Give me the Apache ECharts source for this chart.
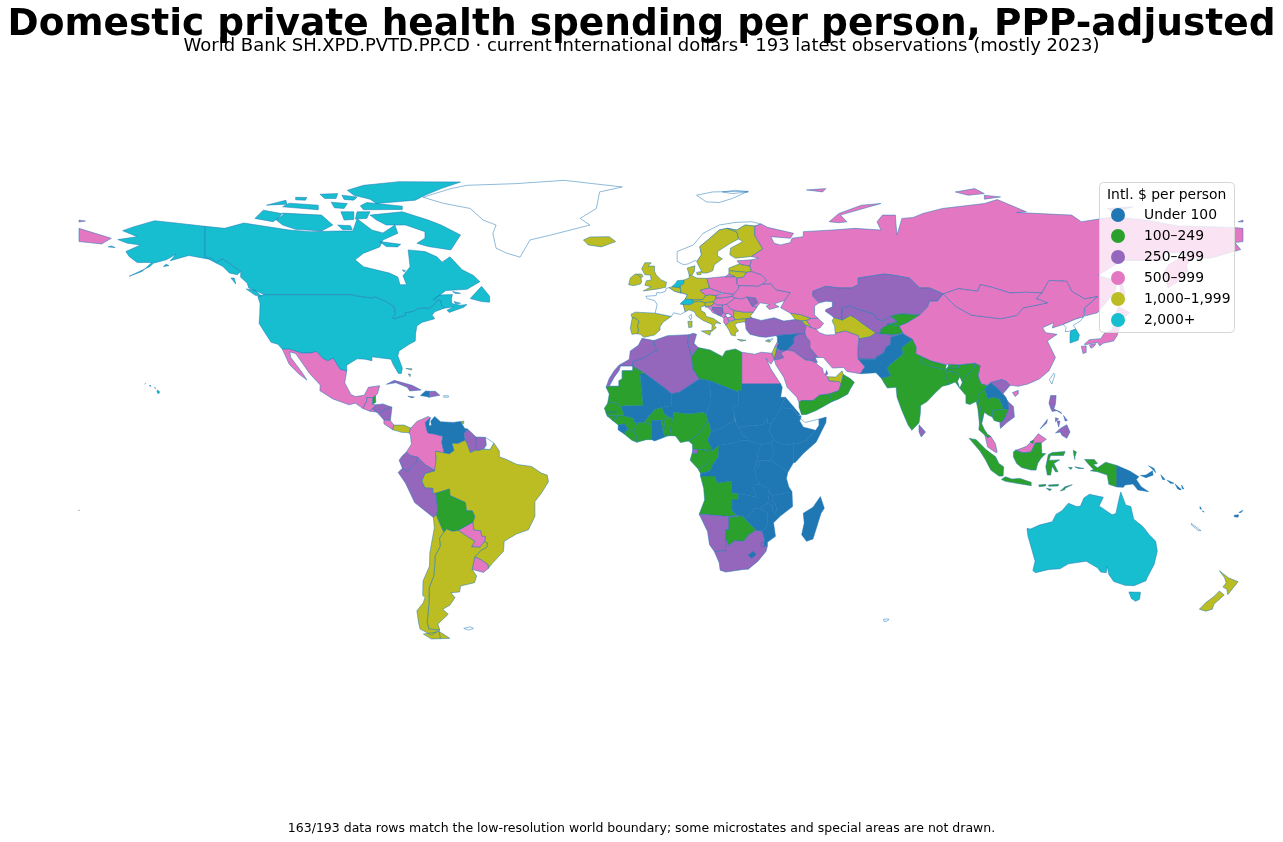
<!DOCTYPE html>
<html><head><meta charset="utf-8"><style>html,body{margin:0;padding:0;background:#fff}#c{width:1283px;height:842px}</style>
<script src="https://cdn.jsdelivr.net/npm/echarts@6/dist/echarts.min.js"></script></head><body><div id="c"></div>
<script>
const titleText='Domestic private health spending per person, PPP-adjusted';
const subtitleText='World Bank SH.XPD.PVTD.PP.CD · current international dollars · 193 latest observations (mostly 2023)';
const footnoteText='163/193 data rows match the low-resolution world boundary; some microstates and special areas are not drawn.';
const legendTitle='Intl. $ per person';
const binLabels=['Under 100','100–249','250–499','500–999','1,000–1,999','2,000+'];
const binColors=['#1f77b4','#2ca02c','#9467bd','#e377c2','#bcbd22','#17becf'];
const binLower=[0,100,250,500,1000,2000];
const binUpper=[100,250,500,1000,2000,1e9];
const binTypical=[60,170,370,720,1400,3200];
const under100=['Mali','Niger','Chad','Sudan','South Sudan','Ethiopia','Eritrea','Djibouti','Somalia','Kenya','Uganda','Tanzania','Rwanda','Burundi','DR Congo','Central African Rep.','Zambia','Zimbabwe','Malawi','Mozambique','Madagascar','Lesotho','Sierra Leone','Ghana','Venezuela','Haiti','Syria','Pakistan','Laos','Papua New Guinea','Solomon Is.','Vanuatu','Fiji'];
const from100to249=['Libya','Mauritania','Senegal','Gambia','Guinea-Bissau','Guinea','Liberia',"Cote d'Ivoire",'Burkina Faso','Togo','Benin','Nigeria','Cameroon','Gabon','Congo','Angola','Botswana','Yemen','Oman','India','Nepal','Bhutan','Bangladesh','Myanmar','Thailand','Cambodia','Indonesia','Timor-Leste','Brunei','Kyrgyzstan','Tajikistan','Belize','Bolivia'];
const from250to499=['Morocco','Algeria','Tunisia','Eq. Guinea','Namibia','South Africa','Eswatini','Turkey','Iraq','Jordan','Qatar','Kuwait','Afghanistan','Uzbekistan','Kazakhstan','Vietnam','Philippines','Sri Lanka','Moldova','Bosnia and Herz.','Honduras','Nicaragua','Cuba','Dominican Rep.','Jamaica','Guyana','Suriname','Ecuador','Peru'];
const from500to999=['Russia','China','Mongolia','Japan','Malaysia','Iran','Saudi Arabia','Egypt','Azerbaijan','Lebanon','Mexico','Guatemala','El Salvador','Costa Rica','Colombia','Paraguay','Uruguay','Ukraine','Belarus','Poland','Czechia','Slovakia','Hungary','Romania','Serbia','Croatia','Estonia','Montenegro','Albania','North Macedonia'];
const from1000to1999=['Iceland','United Kingdom','Ireland','Spain','Portugal','Belgium','Luxembourg','Germany','Denmark','Austria','Italy','Sweden','Finland','Latvia','Lithuania','Slovenia','Bulgaria','Greece','Cyprus','Georgia','Armenia','Turkmenistan','United Arab Emirates','Israel','Brazil','Argentina','Chile','Panama','Bahamas','Trinidad and Tobago','New Zealand'];
const over2000=['United States','Canada','Australia','Netherlands','Switzerland','South Korea'];
const binMembers=[under100,from100to249,from250to499,from500to999,from1000to1999,over2000];

const boundaries={
'United States':['-122.8 49 -95.2 49 -94.6 48.7 -92 48.3 -89.6 48 -88.4 48.3 -84.9 46.9 -82.5 45.3 -82.1 43 -83 42.2 -82.7 41.7 -79 42.8 -79.2 43.5 -76.5 44 -74.9 45 -71.5 45 -70.3 45.9 -69.2 47.4 -68.2 47.3 -67.8 45.7 -67 44.9 -70 43.8 -70.8 42.8 -70 41.7 -74 40.6 -75.5 39.5 -75.9 37.2 -76 35 -78 33.9 -81 32 -81.4 30.5 -80 26.8 -80.3 25.2 -81.2 25.2 -82.8 27.8 -83.5 29.5 -85.3 29.7 -89.4 30.2 -89.4 29 -91.5 29.5 -94 29.6 -97.2 27.7 -97.2 25.9 -99.2 26.4 -101.4 29.8 -103 29 -104.5 29.6 -106.5 31.8 -108.2 31.4 -111 31.3 -114.8 32.5 -117.1 32.5 -118.5 34 -120.6 34.6 -122.5 37.5 -124.3 40.3 -124.1 43 -124 46.3 -124.7 48.4',
 '-141 69.6 -141 60.3 -139 60 -137.5 58.9 -135.5 59.8 -133.5 58.4 -130 56 -131 55 -133.5 55.5 -135.5 57.5 -139.9 59.7 -146 60.8 -149 60 -151.8 59.2 -150 61.2 -153 59.5 -157 58.5 -158 57.5 -164.5 54.5 -160.5 56 -157.5 58.7 -162 58.7 -164.5 60.5 -165.5 62 -161 64 -165 64.5 -168 65.6 -162 66.5 -166.5 68.3 -163 69.5 -156.6 71.3 -148 70.4',
 '-155.5 19 -155 19.6 -155.7 20.2 -155.9 19.7','-156.7 20.9 -156.2 20.7 -156.3 21','-158.2 21.4 -157.7 21.3 -158 21.7','-159.7 22 -159.4 22.2 -159.4 21.9','-153.9 57.5 -152.2 57.7 -153 58.2','-171 63.4 -168.8 63.2 -170 63.7'],
'Canada':['-141 69.6 -135 69 -129 70.6 -121 69.4 -115 68.5 -108.5 68 -100 68.2 -95.3 68.2 -94 71.9 -89.4 68.5 -86 67.6 -82.3 70 -81.4 67.5 -86 65.5 -87 63.4 -92 61.5 -94.6 59.5 -92 57.4 -84 55.5 -81.4 54.3 -80.7 52 -78.7 52 -79.8 54.7 -77.6 57.4 -78.2 62.5 -73 62 -69.3 60.4 -67.7 58.8 -65.3 60.4 -61.5 56.5 -58 54.8 -56 52.9 -60 50.6 -66.5 50.2 -70.5 47.4 -68.5 48.9 -64.5 49 -64.8 47.8 -64.7 46.3 -62 45.8 -60 46 -61 45.2 -65.5 43.6 -66.2 44.3 -64 45.3 -67 44.9 -67.8 45.7 -68.2 47.3 -69.2 47.4 -70.3 45.9 -71.5 45 -74.9 45 -76.5 44 -79.2 43.5 -79 42.8 -82.7 41.7 -83 42.2 -82.1 43 -82.5 45.3 -84.9 46.9 -88.4 48.3 -89.6 48 -92 48.3 -94.6 48.7 -95.2 49 -122.8 49 -125 50 -127.5 51 -128 52.5 -130 54.2 -130 56 -133.5 58.4 -135.5 59.8 -137.5 58.9 -139 60 -141 60.3',
 '-123.5 48.5 -125.5 48.8 -128.3 50.7 -125.5 50.3','-59 47.8 -55.5 51.5 -53 48.5 -53 46.7 -55.5 46.9','-132 54 -133 54 -131.5 52.2',
 '-90 73 -80 74 -72 71.5 -68 70 -62 67 -65 62.5 -72 63.5 -75.5 64.5 -73 66 -73 68 -79 70 -85 70 -88 71.5',
 '-105 73 -117 73.6 -119 71.5 -117 70 -113 68.7 -105 68.2 -101.5 70','-125.6 72 -123 74.5 -116.5 73.3 -120 71',
 '-87 65 -80.5 64.2 -81.5 63.4 -85 63.5','-93 75.8 -91 76.8 -80 75.7 -80 74.7 -92 74.6',
 '-97 80.5 -92 82 -81 83.1 -62 83 -68 81 -73 79 -76 77.5 -88 76.5 -90 77.8 -95 79',
 '-117 75.5 -106 74.6 -106 76 -115 76.6','-99 74 -98 71.5 -95 71.7 -95 74','-94 74 -90 74 -91 72 -94.5 71.8','-122 76 -116 77.5 -115.7 76.3','-102 76.9 -97 76.5 -98 75 -101 75.2','-105.5 79.3 -100 79.5 -100.5 78 -104 78','-113 78.4 -109.5 78.3 -110 77.5 -113 77.6','-98.7 79 -94 78.5 -95 77.5 -98 77.7','-100 70 -96 69.8 -95.5 68.6 -98.5 68.6','-64 46.9 -62 46.4 -63.5 46.2','-64.5 49.9 -62 49.4 -63.5 49.3','-80 56.5 -79 56.2 -79.5 55.9'],
'Greenland':['-73.6 78.4 -67.5 76.6 -59 75 -55 71.5 -51 70 -52 67.5 -51 63 -47.7 61.5 -43.6 60.3 -40.5 65.5 -34 67 -22 70 -25 72 -20 75 -19 80 -12 81.5 -30 83.5 -45 82.5 -60 82 -65 81'],
'Mexico':['-117.1 32.5 -114.8 32.5 -111 31.3 -108.2 31.4 -106.5 31.8 -104.5 29.6 -103 29 -101.4 29.8 -99.2 26.4 -97.2 25.9 -97.8 22.4 -95.9 18.8 -94.5 18.2 -91.8 18.6 -90.5 21 -87 21.5 -87.7 19 -88.3 18.5 -89.1 17.9 -91 17.9 -91 16.9 -92.2 14.6 -94.5 16.2 -96.5 15.7 -101.5 17.5 -105.5 20 -105.4 21.7 -108.7 25.2 -113 31.2 -114.8 31.7 -114.5 30 -111 25.5 -109.5 23.2 -112 25 -115 28'],
'Guatemala':['-92.2 14.6 -91 16.9 -91 17.9 -89.1 17.9 -89.2 15.9 -88.2 15.7 -89.3 14.4 -90.1 13.8'],
'Belize':['-89.1 17.9 -88.3 18.5 -88.2 16.5 -89.2 15.9'],
'Honduras':['-88.2 15.7 -86 16 -83.2 15 -85 14.5 -87.4 13 -87.8 13.5 -89.3 14.4'],
'El Salvador':['-89.3 14.4 -87.8 13.5 -87.8 13.2 -90.1 13.8'],
'Nicaragua':['-83.2 15 -83.7 11 -85.7 11.1 -87.4 13 -85 14.5'],
'Costa Rica':['-83.7 11 -82.6 9.6 -83 8.2 -85.7 10 -85.7 11.1'],
'Panama':['-82.6 9.6 -79.5 9.6 -77.4 8.7 -77.9 7.3 -80.3 7.4 -81.5 7.8 -83 8.2'],
'Cuba':['-84.9 21.9 -82.5 23.1 -77 21.6 -74.2 20.2 -77.7 19.9 -78.5 21 -82 22.4'],
'Jamaica':['-78.3 18.3 -76.3 18.1 -77 17.8'],
'Haiti':['-74.4 18.5 -72.8 19.9 -71.7 19.8 -71.7 18 -72.5 18.2'],
'Dominican Rep.':['-71.7 19.8 -69.8 19.8 -68.4 18.6 -70.5 18.2 -71.7 18'],
'Puerto Rico':['-67.2 18.5 -65.7 18.4 -65.8 18 -67.2 18'],
'Bahamas':['-78.9 26.7 -77 26.6 -77.2 26.2','-78.2 25 -77.6 24.2 -77.5 25'],
'Trinidad and Tobago':['-61.8 10.7 -61 10.8 -61 10.1 -61.8 10.1'],
'Colombia':['-75.3 -0.1 -77.5 0.4 -78.8 1.4 -77.2 3.8 -77.5 6.5 -77.9 7.3 -77.4 8.7 -75.5 10.7 -72 12.2 -71.3 11.8 -72.9 10.4 -72.4 8 -72 7.2 -70 6.9 -67.4 6.2 -67.8 4.5 -67.3 2.2 -67 1.2 -69.8 1.7 -69.5 -0.5 -70 -4.2 -70.7 -3.7 -72.9 -2.4'],
'Venezuela':['-71.3 11.8 -71.6 10.8 -71.8 9.5 -71 9.5 -71.2 10.8 -70 12.2 -68.2 10.6 -64.3 10.4 -62 10.7 -60.7 8.6 -59.8 8.4 -61 7 -60.6 5 -62.8 4 -64.6 4.1 -64 1.9 -65.5 0.9 -67 1.2 -67.3 2.2 -67.8 4.5 -67.4 6.2 -70 6.9 -72 7.2 -72.4 8 -72.9 10.4'],
'Guyana':['-59.8 8.4 -57.2 6 -57.3 2 -59 1.3 -60 4 -60.6 5 -61 7'],
'Suriname':['-57.2 6 -54.3 5.9 -54 3.6 -54.8 2.4 -56.5 1.9 -57.3 2'],
'Brazil':['-51.7 4.2 -50 1.8 -50 0 -48 -0.7 -44.5 -2.3 -40 -2.9 -37 -4.9 -35.2 -5.5 -34.8 -7.5 -37 -11 -39 -13.5 -39 -18 -41 -22 -44.7 -23.3 -48.5 -25.5 -48.7 -28.5 -52.3 -32.3 -53.4 -33.7 -53.5 -32.5 -55.8 -31 -57.6 -30.2 -55.8 -28.3 -53.8 -27.2 -53.7 -26 -54.6 -25.6 -54.3 -24 -55.4 -24 -55.8 -22.3 -57.9 -22.1 -58.2 -19.8 -57.6 -18 -58.4 -16.3 -60.2 -16.3 -60.5 -13.8 -65.3 -11.7 -65.4 -9.7 -69.6 -11 -70.6 -11 -70.6 -9.5 -73 -9.4 -74 -7.3 -73 -5 -70 -4.2 -69.5 -0.5 -69.8 1.7 -67 1.2 -65.5 0.9 -64 1.9 -64.6 4.1 -62.8 4 -60.6 5 -60 4 -59 1.3 -57.3 2 -56.5 1.9 -54.8 2.4 -52.9 2.2'],
'Ecuador':['-75.3 -0.1 -77.5 0.4 -78.8 1.4 -80 0.3 -81 -1 -80 -3.4 -78.5 -4.5 -75.5 -1.5'],
'Peru':['-75.3 -0.1 -75.5 -1.5 -78.5 -4.5 -80 -3.4 -81.3 -4.7 -79 -8 -76.2 -13.8 -70.4 -18.3 -69.5 -17.5 -69 -16.2 -69.6 -11 -70.6 -11 -70.6 -9.5 -73 -9.4 -74 -7.3 -73 -5 -70 -4.2 -70.7 -3.7 -72.9 -2.4'],
'Bolivia':['-69.6 -11 -65.4 -9.7 -65.3 -11.7 -60.5 -13.8 -60.2 -16.3 -58.4 -16.3 -57.6 -18 -58.2 -19.8 -62.7 -22.2 -64.5 -22.5 -66.3 -21.8 -67.2 -22.8 -68.5 -20 -69.5 -17.5 -69 -16.2'],
'Paraguay':['-58.2 -19.8 -57.9 -22.1 -55.8 -22.3 -55.4 -24 -54.3 -24 -54.6 -25.6 -56 -27.3 -58.6 -27.2 -57.6 -25.5 -60 -24 -62.7 -22.2'],
'Uruguay':['-57.6 -30.2 -55.8 -31 -53.5 -32.5 -53.4 -33.7 -54.9 -34.9 -58.4 -34 -58 -32'],
'Argentina':['-66.3 -21.8 -64.5 -22.5 -62.7 -22.2 -60 -24 -57.6 -25.5 -58.6 -27.2 -56 -27.3 -54.6 -25.6 -53.7 -26 -53.8 -27.2 -55.8 -28.3 -57.6 -30.2 -58 -32 -58.4 -34 -57 -36 -57.7 -38 -62 -39 -62.3 -40.8 -65 -41 -63.7 -42.5 -65.3 -44.8 -67.5 -46 -65.8 -47.5 -69 -50.5 -68.4 -52.3 -71.8 -52 -72.3 -50 -71.8 -44.5 -71.7 -39.5 -70.3 -36 -70 -33 -69.9 -30 -68.3 -27 -68.5 -24.5 -67.2 -22.8','-68.6 -52.7 -68.3 -54.9 -65.3 -54.8'],
'Chile':['-69.5 -17.5 -70.4 -18.3 -70.1 -21.5 -71.5 -29 -71.6 -33 -73.6 -37.5 -73.7 -41.8 -73 -42.5 -73.5 -44 -75.5 -46.5 -75 -50 -74.5 -52 -71 -53.8 -68.4 -52.3 -71.8 -52 -72.3 -50 -71.8 -44.5 -71.7 -39.5 -70.3 -36 -70 -33 -69.9 -30 -68.3 -27 -68.5 -24.5 -67.2 -22.8 -68.5 -20','-68.6 -52.7 -70 -53 -73.5 -53.5 -71 -55 -68.3 -54.9'],
'Falkland Is.':['-61 -51.8 -59 -51.3 -58 -51.8 -59.5 -52.3'],
'Iceland':['-24 65.5 -22 66.4 -16 66.5 -14 65 -18.5 63.4 -22.5 64'],
'Ireland':['-10 52 -9.5 54 -8 55.2 -7.3 55.2 -6.2 54.1 -6 52.8 -6.4 52.2 -8.5 51.7'],
'United Kingdom':['-5.5 50.1 -1 50.7 1.4 51.2 1.7 52.7 0 53.5 -1.5 55 -2 56 -2 57.6 -4 57.6 -3 58.6 -5 58.6 -6 56.8 -5 55 -3.3 54.9 -3 53.4 -4.5 53.2 -5 51.8 -3 51.4','-7.3 55.2 -6 55.2 -5.5 54.5 -6.2 54.1'],
'Spain':['-9.3 43 -8 43.7 -1.8 43.4 3.2 42.4 0.7 40.7 -0.3 39.3 -0.3 38.3 -2 36.8 -5.3 36.1 -6.4 37 -7.4 37.2 -7 38.2 -7.3 39.5 -6.8 41 -8.2 42 -8.9 41.9'],
'Portugal':['-8.9 41.9 -8.2 42 -6.8 41 -7.3 39.5 -7 38.2 -7.4 37.2 -9 37 -9.5 38.8'],
'France':['-1.8 43.4 3.2 42.4 3.9 43.5 6 43 7.5 43.8 6.9 46 6 46.2 7.5 47.6 8.2 49 6.4 49.5 6 49.5 4.2 50 2.5 51.1 1.6 50.9 1.4 50 0 49.5 -1.3 49.6 -1.5 48.7 -4.7 48.5 -4.3 47.8 -2 47.2 -1.2 46','8.6 42.4 9.4 43 9.5 42 9.2 41.4','-54.3 5.9 -51.7 4.2 -52.9 2.2 -54.8 2.4 -54 3.6'],
'Belgium':['2.5 51.1 3.4 51.4 5.7 51.2 6 50.8 6.1 50.1 6 49.5 4.2 50'],
'Netherlands':['3.4 51.4 4.6 52.5 5 53.2 7.1 53.4 7 52.2 6 51.8 6 50.8 5.7 51.2'],
'Luxembourg':['6.1 50.1 6.4 49.5 6 49.5'],
'Germany':['7.1 53.4 8.7 54 8.7 55 9.5 54.8 11 54 14.2 53.9 14.6 52.5 15 51 12.1 50.3 13.8 48.7 13 47.5 10.5 47.4 9.5 47.5 7.5 47.6 8.2 49 6.4 49.5 6.1 50.1 6 50.8 6 51.8 7 52.2'],
'Denmark':['8.7 55 8.1 57 10.5 57.7 10.3 56 9.5 54.8','11 55.7 12.6 56 12.3 55 11.2 55'],
'Switzerland':['6 46.2 7.5 47.6 9.5 47.5 10.4 46.8 9 45.9 6.9 46'],
'Austria':['9.5 47.5 10.5 47.4 13 47.5 13.8 48.7 15 49 17 48.7 17 48 16.5 47 16 46.8 13.7 46.5 12 47 10.4 46.8'],
'Italy':['6.9 46 9 45.9 10.4 46.8 12 47 13.7 46.5 13.7 45.6 12.3 45.3 12.4 44.2 13.6 43.5 14 42.4 16.2 41.8 18.5 40.2 17 40.5 16.5 39.7 17.1 39 15.7 37.9 15.8 40 13 41.2 11 42.5 10.3 43.8 8.7 44.4 7.5 43.8','12.5 38 15.6 38.2 15.1 36.7','8.3 40.9 9.6 41 9.6 39.2 8.6 39'],
'Slovenia':['13.7 45.5 13.7 46.5 16 46.8 16.5 46.4 15.4 45.5'],
'Croatia':['13.6 45.3 15.4 45.5 16.5 46.4 17.5 45.9 19 45.9 19 45 16 45.2 15.8 44.5 17.5 43 18.5 42.5 16 43.5 15 44.7 14.3 45.2'],
'Bosnia and Herz.':['16 45.2 19 45 19.3 43.6 18.5 42.5 17.5 43 15.8 44.5'],
'Serbia':['19 45.9 20.3 46.1 21.4 44.8 22.6 44.2 22.5 43.2 22.4 42.3 21.7 42.3 21.7 42.7 20.8 43.2 20 43.1 19.3 43.6 19 45'],
'Kosovo':['20 42.6 20 43.1 20.8 43.2 21.7 42.7 21.7 42.3 20.6 42'],
'Montenegro':['18.5 42.5 19.3 43.6 20 43.1 20 42.6 19.4 41.9'],
'Albania':['19.4 41.9 20 42.6 20.6 42 21 40.6 20.1 39.7 19.4 40.6'],
'North Macedonia':['20.6 42 21.7 42.3 22.4 42.3 23 41.4 21 40.9'],
'Bulgaria':['22.6 44.2 25.5 43.7 28.6 43.7 27.7 42.6 28 42 26.3 41.7 23 41.4 22.4 42.3 22.5 43.2'],
'Romania':['20.3 46.1 22.9 48 24.9 47.7 26.6 48.3 28.2 45.5 29.7 45.2 28.6 43.7 25.5 43.7 22.6 44.2 21.4 44.8'],
'Greece':['20.1 39.7 21 40.6 21 40.9 23 41.4 26.3 41.7 26 40.8 23.8 40.5 22.8 40 23.3 39 24 38 23 37.5 23 36.5 21.7 36.8 21 38.3','23.6 35.5 26.3 35.2 24.8 34.9'],
'Hungary':['16.5 47 17 48 18.8 48 22 48.5 22.9 48 20.3 46.1 19 45.9 17.5 45.9 16.5 46.4 16 46.8'],
'Slovakia':['17 48.7 19.5 49.5 22.5 49.1 22 48.5 18.8 48 17 48'],
'Czechia':['12.1 50.3 15 51 18.8 49.6 17 48.7 15 49 13.8 48.7'],
'Poland':['14.2 53.9 19 54.4 23 54.4 23.5 54 23.5 52.2 24 51.7 24 50.8 22.5 49.1 19.5 49.5 18.8 49.6 15 51 14.6 52.5'],
'Norway':['11.1 59 12.5 61 12 63.5 14.5 65.5 18 68.5 20.5 69 23.5 68.5 26 70 29 69.7 31 70.3 28 71 23 70.8 18 70 13 67.5 10 64 5 62 5 59 7 58 8.5 58.3 10.5 59.3','14 77 11 79 16 80 27 80.2 22 78 18 76.8','19 80 23 80.5 27 80 22 79.5'],
'Sweden':['11.1 59 12.5 61 12 63.5 14.5 65.5 18 68.5 20.5 69 23.5 67.9 24 65.8 21.5 64.5 17.5 62 17.5 60.7 19 59.8 16.5 58 16 56.2 14.3 55.5 12.8 55.5 11.5 58'],
'Finland':['20.5 69 23.5 68.5 26 70 29 69.7 29 66.8 31.5 62.8 28 60.5 23 60 21.3 61 21.5 63 25.3 65 24 65.8 23.5 67.9'],
'Estonia':['23.5 59.2 28 59.5 27.5 57.6 25 58 24.3 58.3'],
'Latvia':['21 57 24.3 58.3 25 58 27.5 57.6 28 56 26.5 55.7 21 56.2'],
'Lithuania':['21 56.2 26.5 55.7 25.5 54.2 23.5 54 23 54.4 22.8 54.4 21 55.2'],
'Belarus':['23.5 54 25.5 54.2 26.5 55.7 28 56 31 55 32.7 53.4 31.5 52.2 30 51.5 24 51.7 23.5 52.2'],
'Moldova':['26.6 48.3 29.2 48 30 46.5 28.2 45.5'],
'Ukraine':['24 51.7 30 51.5 31.5 52.2 34 52.3 35.5 50.5 40 49.6 38.2 47.2 35 46.2 36.5 45.3 33.5 44.5 32.5 45.5 33.7 46 30.7 46.5 29.7 45.3 28.2 45.5 30 46.5 29.2 48 26.6 48.3 24.9 47.7 22.9 48 22 48.5 22.5 49.1 24 50.8'],
'Turkey':['26 40.8 26.3 41.7 28 42 31 41.2 35 42 38 41 41.5 41.5 43.5 41.1 44.8 39.7 44.5 37.2 42.4 37.1 38 36.8 36.2 36.6 36 36.2 35.5 36.6 32.5 36.1 30.5 36.3 27.5 37 26.3 38.5 26.2 39.5'],
'Georgia':['40 43.4 43 43 46.5 41.8 45 41.2 43.5 41.1 41.5 41.5'],
'Armenia':['43.5 41.1 45 41.2 46.5 39 44.8 39.7'],
'Azerbaijan':['46.5 41.8 48.6 41.8 50.3 40.3 49.2 39 48 38.5 46.5 39 45 41.2'],
'Russia':['40 43.4 37 45 38.2 47.2 40 49.6 35.5 50.5 34 52.3 31.5 52.2 32.7 53.4 31 55 28 56 27.5 57.6 28 59.5 30.2 60 28 60.5 31.5 62.8 29 66.8 29 69.7 31 70.3 33 69.3 41 67.5 40 66 34 66.5 35 64.5 37 64 40 64.7 40.5 66 44 66.5 44 68 53 68.5 60 69 68 68.5 66.8 71 68.5 73 72.5 73 72.7 70 73 67 74.5 72 78 72.3 81 73.5 87 75 100 76.5 104 77.7 113 74 110 73.8 127 73 130 71 140 72.5 150 71.5 160 69.7 170 69.5 178 69.2 180 69 180 65 177.5 64.7 179.3 62.6 170 60 164 59.9 162.5 57.8 163 56 160 53 156.8 51 155.7 56 157 58 163 61.5 156 61.7 155 59.3 142.5 59.3 135.2 54.8 141 53 140.5 50 135 43.5 131 42.5 130.7 42.3 131 45 135 48.4 131 47.7 127 50 125.5 53 120 53.3 117.8 49.5 113 49.7 108 49.5 102 51.3 98.7 52 98 50 92 50.8 87.3 49.2 83 51 80 51 76.8 54 71 55 69 55.2 61 54 61 52 59 51 55 51 51 51.5 47 50 47 48.5 49 46.5 47.5 45.6 47.5 42.9 48.6 41.8 46.5 41.8 43 43',
 '-180 69 -175 67.5 -170 66 -173 64.3 -180 65','19.8 54.4 21 55.2 22.8 54.4','142 54 143.5 49.5 142.5 46 142 50','52 71 55 70.7 57.5 71 55.5 73 68 76.5 62 76 55 73.5','45 80.6 51 81 50 80','91 80 97 81 100 79.5 95 79','100 79 105 78.5 100 77.8','138 75 146 75.5 140 73.8','178.5 71 180 71.5 180 70.9','-180 71.5 -178 71.2 -180 70.9'],
'Kazakhstan':['47 50 51 51.5 55 51 59 51 61 52 61 54 69 55.2 71 55 76.8 54 80 51 83 51 87.3 49.2 85.5 47 83 47 82.5 45.3 80 42.8 74 43.2 71 42.5 68.5 41 66.5 41.8 66 43 61 44.5 58.5 45.5 56 45 56 41.3 53.5 42 52.5 42.8 50.8 44 51 44.5 53 45.3 53 46.8 51 47 49 46.5 47 48.5'],
'Turkmenistan':['52.9 41 53.5 42 56 41.3 58.5 42.7 60 42 62 40.5 66.5 37.4 64.5 36.2 61.2 35.6 61 36.6 57 38 53.9 37.3 53.7 39.5'],
'Uzbekistan':['56 45 58.5 45.5 61 44.5 66 43 66.5 41.8 68.5 41 71 42.5 73.2 40.8 70.5 40.2 68 38.5 67.7 37.2 66.5 37.4 62 40.5 60 42 58.5 42.7 56 41.3'],
'Kyrgyzstan':['71 42.5 74 43.2 80 42.8 76 40.4 73.7 39.5 70 40 73.2 40.8'],
'Tajikistan':['70.5 40.2 70 40 73.7 39.5 75 37.3 74.9 37.2 71.5 36.8 67.7 37.2 68 38.5'],
'Afghanistan':['61.2 35.6 64.5 36.2 66.5 37.4 67.7 37.2 71.5 36.8 74.9 37.2 71.2 36.1 71 34 69.5 33 69 31.5 66.5 30 66.3 29.5 61 29.5 60.8 31.5 61 34'],
'Pakistan':['61 29.5 66.3 29.5 66.5 30 69 31.5 69.5 33 71 34 71.2 36.1 74.9 37.2 77.8 35.5 74.5 33 74.8 31 71 28 70 26.8 71 24.4 68.2 23.7 66.5 25.4 61.6 25.1 63 27.2'],
'Iran':['44.8 39.7 46.5 39 48 38.5 49 37.5 51 36.8 54 36.9 53.9 37.3 57 38 61 36.6 61.2 35.6 61 34 60.8 31.5 61 29.5 63 27.2 61.6 25.1 57.5 25.8 56.5 27 53 26.8 50.2 30 48.5 30 47.7 31 46 33 46 35 45 36 44.5 37.2'],
'Iraq':['42.4 37.1 44.5 37.2 45 36 46 35 46 33 47.7 31 48.5 30 47.7 30 46.5 29.1 44.7 29.2 41 31.9 39 32.3 41 34.3 41 36'],
'Syria':['36 36.2 36.2 36.6 38 36.8 42.4 37.1 41 36 41 34.3 39 32.3 36.8 32.3 35.8 32.8 36 34.6'],
'Jordan':['35.8 32.8 36.8 32.3 39 32.3 37 31.4 38 30 36 29.3 35 29.5 35.5 31.5'],
'Israel':['34.3 31.3 35.1 33.1 35.8 32.8 35.5 31.5 35 29.5'],
'Lebanon':['35.1 33.1 35.9 34.6 36.4 34.4 35.8 33.3'],
'Saudi Arabia':['35 29.5 36 29.3 38 30 37 31.4 39 32.3 41 31.9 44.7 29.2 46.5 29.1 47.7 28.5 48.8 27.5 50 26.7 50.2 25.5 51.5 24.2 52 23 55.2 22.7 55.7 22 55 20 52 19 49 18.6 47 17 43.3 17 42.7 16.4 42 18 39 21 38 24 35.5 27.8'],
'United Arab Emirates':['51.5 24.2 54 24.1 56 26 56.4 24.9 55.7 22 55.2 22.7 52 23'],
'Oman':['55.7 22 56.4 24.9 58.6 23.6 59.8 22.5 58.5 20.4 57.8 19 55 17.5 53 16.7 52 19 55 20'],
'Yemen':['43.3 17 47 17 49 18.6 52 19 53 16.7 48 14 45 12.8 43.5 12.7 42.7 15 42.7 16.4'],
'Kuwait':['46.5 29.1 47.7 30 48.4 28.5 47.7 28.5'],
'Qatar':['50.8 24.7 51.2 26.1 51.6 25'],
'India':['68.2 23.7 71 24.4 70 26.8 71 28 74.8 31 74.5 33 77.8 35.5 79 33 78.8 31.2 80.9 30.2 80 28.8 83.5 27.3 88 26.4 88.8 27.2 89 26.8 92 26.9 92 27.8 97 28.3 97 27 94.5 24.5 93.2 22.5 92.4 24.2 92.2 25 89.8 25.8 88.3 26 88.1 24.5 89 21.8 87 21.3 85 19.5 82.3 16.7 80.3 15.5 80.2 13 79.8 10.3 77.6 8 76.5 9.5 74.5 14 73 18 72.7 21 70 20.8 69 22.3'],
'Bangladesh':['88.1 24.5 88.3 26 89.8 25.8 92.2 25 92.4 24.2 91.7 22.8 92.4 20.7 91 22.6 89 21.8'],
'Nepal':['80 28.8 80.9 30.2 83.5 29 88.2 27.8 88 26.4 83.5 27.3'],
'Bhutan':['88.8 27.2 89 28 92 27.8 92 26.9 89 26.8'],
'Sri Lanka':['79.8 9.7 81.8 7.5 80.5 6 79.8 7.5'],
'China':['73.7 39.5 76 40.4 80 42.8 82.5 45.3 83 47 85.5 47 87.3 49.2 91 45.5 96 42.8 105 41.7 110 42.7 112 45 119.5 46.5 116 47.8 117.8 49.5 120 53.3 125.5 53 127 50 131 47.7 135 48.4 131 45 130.7 42.3 128 41.5 124.4 40 121 38.9 121.5 40.5 118 39 119 37.5 122.5 37 119.5 35 121 32 122 30 120 26 117 23.5 113.5 22 110.5 21.3 108 21.6 106.7 22.8 105.3 23.3 102 22.4 101 21.5 99 22 98 24.5 98.7 27.5 97 28.3 92 27.8 89 28 88.2 27.8 83.5 29 80.9 30.2 78.8 31.2 79 33 77.8 35.5 74.9 37.2 75 37.3','108.7 19.4 110.5 20.1 110.5 19 109.5 18.2'],
'Mongolia':['87.3 49.2 92 50.8 98 50 98.7 52 102 51.3 108 49.5 113 49.7 117.8 49.5 116 47.8 119.5 46.5 112 45 110 42.7 105 41.7 96 42.8 91 45.5'],
'North Korea':['124.4 40 128 41.5 130.7 42.3 129.7 41 127.5 39.7 128.3 38.6 126.7 38 125 37.8 125.3 39'],
'South Korea':['126.7 38 128.3 38.6 129.4 36.8 129 35.2 126.5 34.4 126.5 37'],
'Japan':['130.9 34 132.5 35.4 136 35.7 137 37.2 139.5 38.3 140 40.5 141.3 41.3 142 39.5 141 36.5 140 35 136.7 34.3 135.7 33.5 135 34.6 131.5 33.9','130 33.4 131.5 33.5 131.5 31.5 130.5 31.2','132.5 33.8 134.5 34.2 134 33.4 133 32.8','140 41.5 141.5 45.4 145 43.5 143 42 141 42.6'],
'Taiwan':['120.1 23.3 121.5 25.3 121.8 24.8 120.9 22'],
'Myanmar':['92.4 20.7 93.2 22.5 94.5 24.5 97 27 97 28.3 98.7 27.5 98 24.5 99 22 101 21.5 100.1 20.3 97.8 18.5 98.5 16 99.5 11.7 98.5 10 98 14.5 97.5 16.7 95.5 15.8 94.3 16.2 94.3 18.5'],
'Laos':['101 21.5 102 22.4 104 20.8 106.6 18 107.5 15.9 107.5 14.4 106 14.4 105.5 15.5 104.7 17.5 102.5 18 101 17.5 100.5 19.5 100.1 20.3'],
'Thailand':['97.8 18.5 100.1 20.3 100.5 19.5 101 17.5 102.5 18 104.7 17.5 105.5 15.5 106 14.4 102.5 14 102.5 12 101 12.7 100 13.5 99.2 10 100 8.3 101 6.8 102 6.2 101 5.7 100.2 6.5 98.3 8.2 98.5 10 99.5 11.7 98.5 16'],
'Cambodia':['102.5 14 106 14.4 107.5 14.4 106 11 105 10.4 103 11 102.5 12'],
'Vietnam':['102 22.4 105.3 23.3 106.7 22.8 108 21.6 105.7 19 107 17 109 15.2 109.3 12 107 10.4 105 8.6 104.8 10 105 10.4 106 11 107.5 14.4 107.5 15.9 106.6 18 104 20.8'],
'Malaysia':['100.2 6.5 101 5.7 102 6.2 103.4 4 104 1.4 103.4 1.4 101 3','109.6 2 111.3 2.5 113 3.2 115 5 116.7 7 119.2 5.3 117.6 4.2 115.8 4.2 114.5 1.5 112 1.2'],
'Brunei':['114.1 4.6 115.3 5 115 4'],
'Indonesia':['109 1.5 109.6 2 112 1.2 114.5 1.5 115.8 4.2 117.6 4.2 117.8 1 119 1 117.5 -0.5 116.5 -2 116 -4 114.5 -4 111.5 -3.2 110 -2 109 0','95.3 5.6 97.5 5.2 100.5 2.2 103.5 0 104.5 -2 106 -3 105.8 -5.8 104.5 -5.8 102 -4 100.3 -0.8 98.7 1.7','105.3 -6.8 106.5 -6 108.5 -6.7 111 -6.5 114.5 -7.7 114.5 -8.7 110 -8 106.5 -7.4','119.5 -5.5 119 -3 119.8 0.7 121 1.3 125 1.6 124.5 0.4 120.5 0.4 120 -1 121.5 -1 123.3 -0.9 121.5 -2 122.8 -4.5 122 -4.5 121 -2.8 120.5 -5.5','123.5 -10.3 125 -9 124.9 -9.9','116.8 -8.5 119 -8.3 118.9 -8.8 117 -9','119.8 -8.5 123 -8.3 122.8 -8.8 120 -8.9','119.2 -9.5 120.8 -9.8 120.2 -10.2','127.5 2 128.5 1.5 128 0 128 -0.8 127.7 0.5','128 -3 130.8 -3.5 129 -3.5','126 -3.2 127.2 -3.2 126.8 -3.8','141 -2.6 137.5 -1.6 135 -3.3 133.7 -2.3 135 -2 134 -0.8 131 -0.8 132.3 -2.3 133.8 -3.8 132.8 -4.2 135 -4.5 138 -5.5 138.5 -8.3 141 -9.1 141 -6'],
'Timor-Leste':['125 -9 127.2 -8.4 125 -9.5'],
'Papua New Guinea':['141 -2.6 145 -4.3 147.8 -6 147 -6.8 148.5 -9 150.8 -10.5 147.5 -10 146 -8.2 143.5 -8.5 143 -9.2 141 -9.1 141 -6','148.3 -5.6 150 -5.5 152 -4.2 152.2 -5.5 150 -6.3','150.8 -2.7 152.5 -3.5 153 -4.8 152.3 -4','154.6 -5.4 155.9 -6.8 155.2 -6.9'],
'Solomon Is.':['156.5 -7 158.7 -8 157.5 -8','159 -8.2 160.8 -9.8 159.8 -9.7','161 -8.5 161.7 -9.7 161.2 -9.6','160 -9.4 160.9 -9.9 160.2 -9.9'],
'Vanuatu':['166.7 -15 167.2 -15.8 166.7 -15.7','167.5 -16.3 168 -16.6 167.6 -16.6'],
'New Caledonia':['164 -20.1 167 -22.3 166.1 -22.2 164.1 -20.6'],
'Fiji':['177.3 -17.6 178.6 -17.5 178.5 -18.2 177.3 -18.1','178.7 -16.8 180 -16.1 179.4 -16.8','-180 -16.3 -179.8 -16.1 -180 -16'],
'Fr. S. Antarctic Lands':['68.8 -49 70.5 -49 70 -49.6 69 -49.7'],
'Philippines':['120.5 18.5 122.2 18.5 122 16 121.5 14.5 124 13 123.5 13.6 122.5 14 121 13.7 120.5 14.7 120 16.2','122 7.2 123.5 8.6 125.5 9.7 126.5 7.5 125.5 5.6 124 6.5 123.5 7.5','124.5 12.5 125.7 11 125 10.8','122.5 10.8 123.4 10.8 123 9','122 11.8 123 11.5 122 10.6','117.2 8.4 119.5 11.3 119.3 10.2'],
'Cyprus':['32.3 35 33 35.3 34 35 33.5 34.6'],
'N. Cyprus':['33 35.3 34.6 35.7 34 35'],
'Morocco':['-5.9 35.8 -2.2 35.1 -1.7 33 -1.2 32.2 -3.5 31 -5 30 -8.7 28.7 -8.7 27.4 -12.5 27.4 -13 26 -14.5 24 -16 21.3 -17 21 -16 23.7 -14.5 26 -13 27.7 -11.5 28.5 -9.8 29.5 -9.5 32 -7 33.7'],
'W. Sahara':['-8.7 27.4 -12.5 27.4 -13 26 -14.5 24 -16 21.3 -13 21.3 -13 23 -12 23.5 -12 26 -8.7 26'],
'Algeria':['-1.7 33 -2.2 35.1 2 36.6 8.6 36.9 8.3 34.5 9.5 30.2 9.9 26.5 11.9 23.5 5.7 19.5 3.2 19 1.2 20.7 -4.8 25 -8.7 27.4 -8.7 28.7 -5 30 -3.5 31 -1.2 32.2'],
'Tunisia':['8.6 36.9 10 37.3 11 37 10.2 34.3 11.5 33 9.5 30.2 8.3 34.5'],
'Libya':['11.5 33 15.2 32.3 19 30.3 20 32 23 32.6 25 31.6 25 20 24 20 24 19.5 15 23 11.9 23.5 9.9 26.5 9.5 30.2'],
'Egypt':['25 31.6 29 31 31 31.6 34.3 31.3 35 29.5 34 28 33 29 32.5 29.8 34 26.5 37 22 25 22'],
'Sudan':['25 22 37 22 37.5 21 37 18 38.5 18 36.5 14.3 36 12.7 34 10 33 10 33 12 31.5 9.8 29 9.5 27 9.5 24 8.8 23 10.7 22.8 11 22.8 13 22 15 24 15.7 24 19.5 24 20 25 20'],
'South Sudan':['24 8.8 27 9.5 29 9.5 31.5 9.8 33 12 33 10 34 10 33.5 7.7 35 5.4 33.9 4.2 31 3.7 28 4.5 27.4 5 25 7'],
'Chad':['15 23 24 19.5 24 15.7 22 15 22.8 13 22.8 11 18.9 8.9 15.5 7.5 15 10 14.5 11 14 13 15.5 16.9'],
'Niger':['11.9 23.5 15 23 15.5 16.9 14 13 13 13.5 8.5 13 4 13.5 3.6 11.7 2.5 12 1 13 0.3 15 3.2 15.4 3.2 19 5.7 19.5'],
'Mali':['-12.2 14.8 -11.7 15.5 -9.5 15.4 -5.5 15.5 -6.5 25 -4.8 25 1.2 20.7 3.2 19 3.2 15.4 0.3 15 -2 14.2 -5.2 10.5 -7.5 10.2 -8.3 10.5 -8.3 11.5 -11.3 12.4'],
'Mauritania':['-17 21 -16 21.3 -13 21.3 -13 23 -12 23.5 -12 26 -8.7 26 -8.7 27.4 -4.8 25 -6.5 25 -5.5 15.5 -9.5 15.4 -11.7 15.5 -12.2 14.8 -14.3 16.5 -16.5 16.2 -16 19'],
'Senegal':['-16.5 16.2 -14.3 16.5 -12.2 14.8 -11.3 12.4 -16.7 12.4 -17.5 14.7'],
'Gambia':['-16.8 13.6 -13.8 13.6 -13.8 13.3 -16.8 13.2'],
'Guinea-Bissau':['-16.7 12.4 -13.7 12.4 -13.7 11.5 -15 11'],
'Guinea':['-13.7 12.4 -11.3 12.4 -8.3 11.5 -8.3 10.5 -7.5 10.2 -8 8.5 -8.5 7.6 -10.3 8.5 -11.3 9.9 -13.2 9.6 -15 11 -13.7 11.5'],
'Sierra Leone':['-13.2 9.6 -11.3 9.9 -10.3 8.5 -11.4 6.9 -13.3 8.2'],
'Liberia':['-11.4 6.9 -10.3 8.5 -8.5 7.6 -7.5 6 -7.5 4.4 -9 5'],
"Cote d'Ivoire":['-8.5 7.6 -8 8.5 -7.5 10.2 -5.2 10.5 -2.9 9.6 -2.8 5.2 -4.5 5.2 -7.5 4.4 -7.5 6'],
'Burkina Faso':['-5.2 10.5 -2 14.2 0.3 15 1 13 2.5 12 0.9 11 0 11 -2.9 11 -2.9 9.6'],
'Ghana':['-2.9 11 0 11 0.5 8 1.2 6 -2 4.8 -2.8 5.2 -2.9 9.6'],
'Togo':['0 11 0.9 11 1.6 6.2 1.2 6 0.5 8'],
'Benin':['0.9 11 2.5 12 3.6 11.7 2.7 6.4 1.6 6.2'],
'Nigeria':['2.7 6.4 3.6 11.7 4 13.5 8.5 13 13 13.5 14 13 14.5 11 13.2 9 11.5 6.6 8.5 4.8 6 4.3 4.5 6.3'],
'Cameroon':['8.5 4.8 11.5 6.6 13.2 9 14.5 11 15 10 15.5 7.5 14.5 5 16 2 13 2.2 11.3 2.2 9.8 2.3 9.7 3.8'],
'Eq. Guinea':['9.8 2.3 11.3 2.2 11.3 1 9.6 1'],
'Gabon':['9.6 1 11.3 1 11.3 2.2 13 2.2 14.4 1.4 14.5 -2 11.5 -3.7 9 -1'],
'Congo':['11.5 -3.7 14.5 -2 14.4 1.4 13 2.2 16 2 18 3.6 17.8 0 16.2 -2 15.2 -4.3 12.2 -5'],
'Central African Rep.':['14.5 5 15.5 7.5 18.9 8.9 22.8 11 23 10.7 24 8.8 25 7 27.4 5 25 5 22.5 4.2 18.5 3.6 18 3.6 16 2'],
'DR Congo':['12.2 -5.8 12.2 -5 15.2 -4.3 16.2 -2 17.8 0 18 3.6 18.5 3.6 22.5 4.2 25 5 27.4 5 28 4.5 31 3.7 30 1.5 29.6 -1.4 29 -2.8 29 -4.5 29.5 -6.5 30.7 -8.3 28.9 -8.5 28.5 -9.5 29.8 -12.2 28.4 -12 27.2 -11.7 25 -11.3 24 -11 22 -11 21.8 -7.3 17.5 -7.9 16.5 -5.8'],
'Angola':['12.2 -5.8 16.5 -5.8 17.5 -7.9 21.8 -7.3 22 -11 24 -11 24 -13 22 -13 22 -16.2 23.4 -17.6 21 -18 13.9 -17.4 11.8 -17.3 13.5 -13 13.2 -9.5'],
'Namibia':['11.8 -17.3 13.9 -17.4 21 -18 23.4 -17.6 25.2 -17.8 23.3 -18 21 -18.3 21 -22 20 -22 20 -28.4 16.5 -28.6 15 -26.5 14.4 -22.5'],
'Botswana':['21 -18.3 23.3 -18 25.2 -17.8 26 -18.7 29.4 -22.1 27 -23.7 25.6 -25.5 22.8 -25.3 20.9 -26.8 20 -24.8 20 -22 21 -22'],
'South Africa':['16.5 -28.6 20 -28.4 20 -24.8 20.9 -26.8 22.8 -25.3 25.6 -25.5 27 -23.7 29.4 -22.1 31.3 -22.4 32 -24.5 32 -26.8 32.9 -26.9 32.5 -28.5 30 -31.5 27 -33.9 25.5 -34 20 -34.8 18.3 -34.2 18 -32'],
'Lesotho':['27 -29.6 28.5 -28.6 29.4 -29.5 28 -30.6'],
'Eswatini':['31 -25.8 32 -26 32 -27.2 31 -27.2'],
'Zimbabwe':['25.2 -17.8 27 -17.9 29 -15.6 30.4 -15.6 33 -17 32.8 -21 31.3 -22.4 29.4 -22.1 26 -18.7'],
'Zambia':['22 -13 24 -13 24 -11 25 -11.3 27.2 -11.7 28.4 -12 29.8 -12.2 28.5 -9.5 28.9 -8.5 30.7 -8.3 32.9 -9.5 33.5 -11 33 -14 30.4 -15.6 29 -15.6 27 -17.9 25.2 -17.8 23.4 -17.6 22 -16.2'],
'Malawi':['32.9 -9.5 34.5 -11.5 34.5 -13.5 35.3 -14 35.8 -16 35.2 -17 34.5 -16 34.5 -14.5 33 -14 33.5 -11'],
'Mozambique':['34.9 -11.6 40.5 -10.5 40.7 -15 37 -17.8 34.8 -19.9 35.4 -24 32.9 -25.8 32.9 -26.9 32 -26.8 32 -24.5 31.3 -22.4 32.8 -21 33 -17 30.4 -15.6 33 -14 34.5 -14.5 34.5 -16 35.2 -17 35.8 -16 35.3 -14 34.5 -13.5 34.5 -11.5'],
'Tanzania':['30 -1 34 -1 37.7 -3.5 39.2 -4.7 38.8 -6.5 39.5 -9 40.5 -10.5 34.9 -11.6 34.5 -11.5 32.9 -9.5 30.7 -8.3 29.5 -6.5 29 -4.5 30.5 -2.4'],
'Burundi':['29 -2.8 30.5 -2.4 29 -4.5'],
'Rwanda':['29.6 -1.4 30 -1 30.5 -2.4 29 -2.8'],
'Uganda':['30 1.5 31 3.7 33.9 4.2 35 1.8 34 -1 30 -1 29.6 -1.4'],
'Kenya':['33.9 4.2 35 5.4 36 4.4 38 3.6 39.8 3.8 41 4 41 -1.7 39.2 -4.7 37.7 -3.5 34 -1 35 1.8'],
'Ethiopia':['36.5 14.3 37.9 14.9 39 14.5 40.5 14.5 42.3 12.5 42.8 11 42.9 10.9 44 9 47.9 8 44.9 5 41.9 3.9 41 4 39.8 3.8 38 3.6 36 4.4 35 5.4 33.5 7.7 34 10 36 12.7'],
'Eritrea':['38.5 18 43 12.8 42.3 12.5 40.5 14.5 39 14.5 37.9 14.9 36.5 14.3'],
'Djibouti':['42.3 12.5 43.3 12.4 43.2 11.5 42.8 11'],
'Somaliland':['43.2 11.5 44.5 10.4 48.9 11.4 48.9 9.5 47.9 8 44 9 42.9 10.9'],
'Somalia':['48.9 11.4 51.1 12 51 10.4 48 4.5 44 1 41.5 -1.7 41 -1.7 41 4 41.9 3.9 44.9 5 47.9 8 48.9 9.5'],
'Madagascar':['49.3 -12 50.5 -15.5 49.5 -17 47 -24.8 45 -25.5 43.5 -23.5 44.3 -20 44 -17 47 -15.2'],
'New Zealand':['172.7 -40.5 174.2 -41.7 171 -44.5 170.5 -46 168.5 -46.6 166.5 -46 168.5 -44 171.2 -42','172.7 -34.4 175.5 -36.5 178.5 -37.7 177 -39.5 175.3 -41.6 175 -40 173.8 -39.3 174.8 -38 174.3 -36.5'],
'Australia':['113.2 -21.6 114.3 -21.8 117 -20.6 121 -19.6 122.2 -17.3 124 -16.3 126 -14 128.5 -15 129.7 -14.9 130.8 -12.4 132.5 -11.3 136.8 -12.2 135.5 -14.8 139.5 -17.5 140.7 -17.1 141.7 -12.5 142.2 -10.6 143.7 -14.5 145.3 -15 146.2 -18.8 149 -21 151 -23.5 153 -25.5 153.5 -28.5 152.5 -32.5 150.3 -36.6 150 -37.4 146.3 -38.9 143.5 -38.8 140 -37.6 138.5 -35.5 138 -33 137.7 -35 136 -34.8 135 -33.5 131.5 -31.5 126 -32.3 123.4 -33.8 120 -34 115.8 -35 115 -34.3 115.7 -31.5 114.2 -26.3 113.5 -24','144.7 -40.8 148.3 -40.9 148 -43 146.8 -43.6 145.5 -42.8']
};

function parseRing(s){const n=s.split(' ').map(Number);const r=[];for(let i=0;i<n.length;i+=2)r.push([n[i],n[i+1]]);r.push(r[0]);return r;}
const worldGeo={type:'FeatureCollection',features:Object.keys(boundaries).map(name=>({type:'Feature',properties:{name},geometry:{type:'MultiPolygon',coordinates:boundaries[name].map(s=>[parseRing(s)])}}))};
echarts.registerMap('lowres',worldGeo);

const mapData=[];
binMembers.forEach((names,i)=>names.forEach(name=>mapData.push({name,value:binTypical[i]})));
const font='"DejaVu Sans"';
const chart=echarts.init(document.getElementById('c'),null,{renderer:'canvas'});
chart.setOption({
 animation:false,backgroundColor:'#fff',tooltip:{show:false},
 title:[
  {text:titleText,left:'center',top:1,textStyle:{fontFamily:font,fontSize:37.5,fontWeight:'bold',color:'#000'},z:20},
  {text:subtitleText,left:'center',top:32,textStyle:{fontFamily:font,fontSize:18,fontWeight:'normal',color:'#000'},z:20},
  {text:footnoteText,left:'center',top:817,textStyle:{fontFamily:font,fontSize:12.5,fontWeight:'normal',color:'#000'},z:20},
  {text:legendTitle,left:1107,top:188,padding:0,textStyle:{fontFamily:font,fontSize:13.9,fontWeight:'normal',color:'#000'},z:60}
 ],
 geo:{map:'lowres',silent:true,roam:false,aspectScale:0.97,boundingCoords:[[-180,83.6],[180,-55.6]],left:79,top:180,width:1164,height:461,
  itemStyle:{areaColor:'#fff',borderColor:'#1f77b4',borderWidth:0.5},emphasis:{disabled:true},select:{disabled:true},label:{show:false}},
 visualMap:{type:'piecewise',seriesIndex:0,orient:'vertical',inverse:true,left:1111,top:208,itemWidth:14,itemHeight:14,itemGap:7,itemSymbol:'circle',textGap:19,align:'left',selectedMode:false,hoverLink:false,z:60,padding:0,
  textStyle:{fontFamily:font,fontSize:13.9,color:'#000'},
  pieces:binLabels.map((label,i)=>({min:binLower[i],max:binUpper[i],label,color:binColors[i]}))},
 graphic:[{type:'rect',z:50,silent:true,shape:{x:1099.5,y:182.5,width:135,height:150,r:4},style:{fill:'rgba(255,255,255,0.8)',stroke:'#d6d6d6',lineWidth:1}}],
 series:[{type:'map',geoIndex:0,silent:true,data:mapData}]
});
</script></body></html>
